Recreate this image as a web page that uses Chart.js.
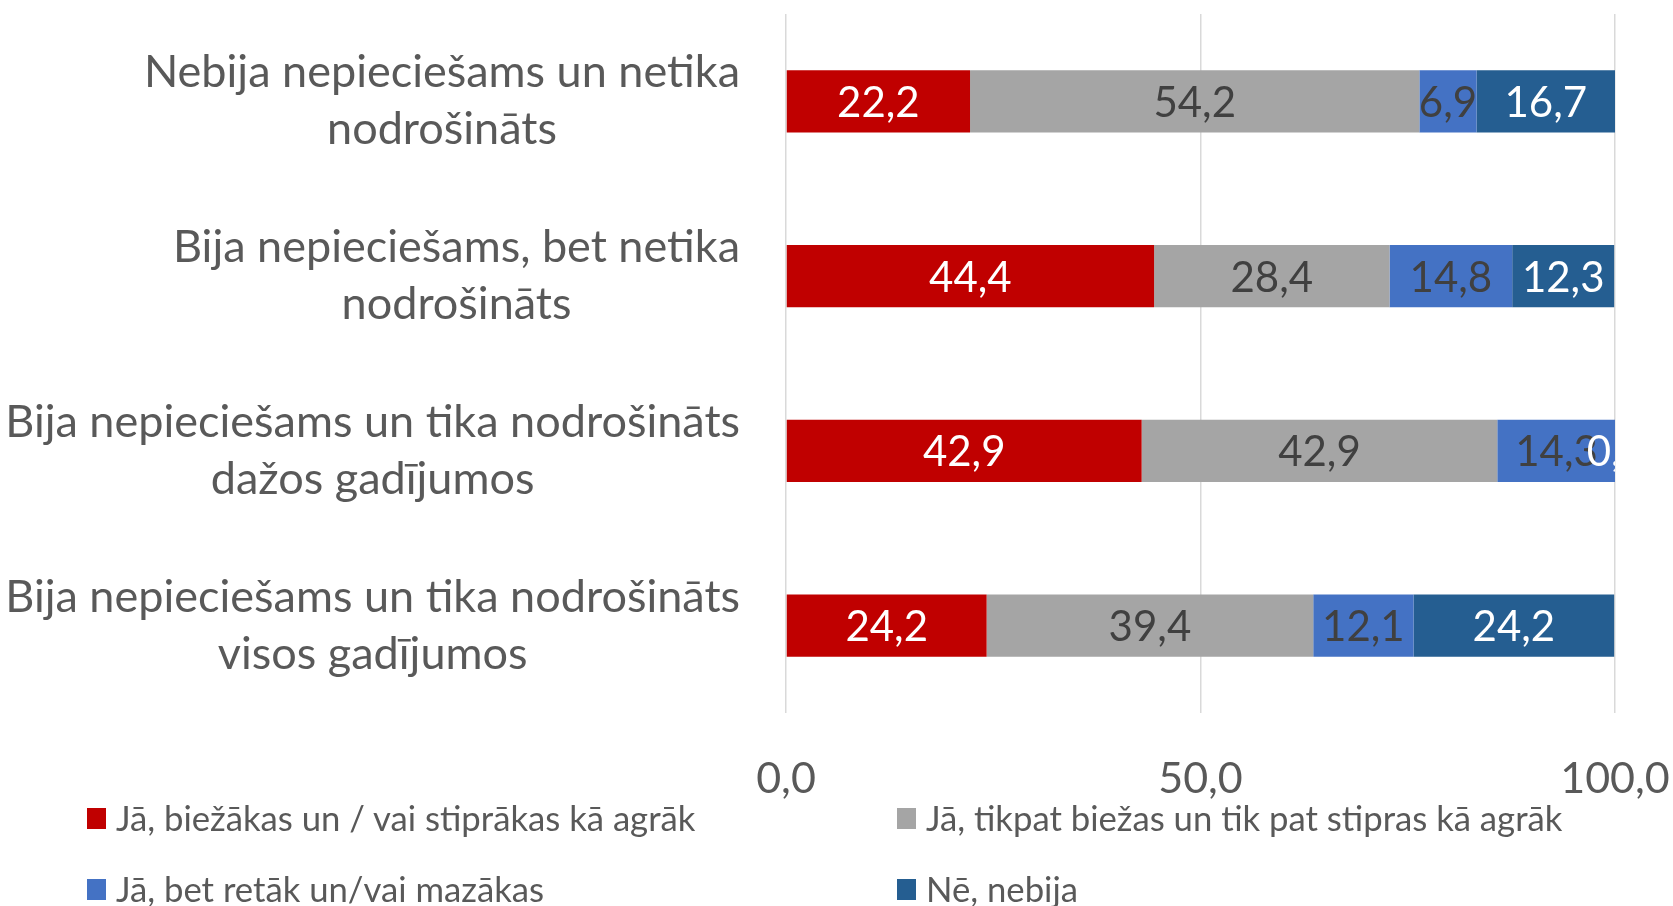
<!DOCTYPE html>
<html>
<head>
<meta charset="utf-8">
<script src="https://cdn.jsdelivr.net/npm/chart.js@4.4.1/dist/chart.umd.min.js"></script>
<style>
  body { margin: 0; background: #fff; }
  #wrap { position: relative; width: 1673px; height: 906px; }
  .lg { position: absolute; font-family: Lato, sans-serif; font-size: 34.7px; color: #595959; white-space: nowrap; line-height: 40px; }
  .lg i { position: absolute; left: -29px; top: 10px; width: 19px; height: 21px; }
</style>
</head>
<body>
<div id="wrap">
  <canvas id="chart" width="1673" height="906"></canvas>
</div>
<script>
// categories (top to bottom), each split into lines
const categories = [
  ['Nebija nepieciešams un netika', 'nodrošināts'],
  ['Bija nepieciešams, bet netika', 'nodrošināts'],
  ['Bija nepieciešams un tika nodrošināts', 'dažos gadījumos'],
  ['Bija nepieciešams un tika nodrošināts', 'visos gadījumos']
];
const seriesNames = [
  'Jā, biežākas un / vai stiprākas kā agrāk',
  'Jā, tikpat biežas un tik pat stipras kā agrāk',
  'Jā, bet retāk un/vai mazākas',
  'Nē, nebija'
];
const moreOften = [22.2, 44.4, 42.9, 24.2];
const sameAs    = [54.2, 28.4, 42.9, 39.4];
const lessOften = [6.9, 14.8, 14.3, 12.1];
const notAtAll  = [16.7, 12.3, 0.0, 24.2];
const xTicks = [0, 50, 100];

const colors = ['#C00000', '#A5A5A5', '#4472C4', '#255E91'];
const labelColors = ['#FFFFFF', '#404040', '#404040', '#FFFFFF'];
const font = 'Lato, sans-serif';

const fmt = v => v.toFixed(1).replace('.', ',');

// y labels: block right aligned, lines centered inside the block
const yLabelPlugin = {
  id: 'yLabels',
  afterDraw(chart) {
    const ctx = chart.ctx;
    const ys = chart.scales.y;
    ctx.save();
    ctx.font = '45px ' + font;
    ctx.fillStyle = '#595959';
    ctx.textAlign = 'center';
    ctx.textBaseline = 'middle';
    const right = chart.chartArea.left - 46;
    const lineH = 57;
    categories.forEach((lines, i) => {
      const w = Math.max(...lines.map(l => ctx.measureText(l).width));
      const cx = right - w / 2;
      const cy = ys.getPixelForValue(i);
      lines.forEach((l, k) => {
        ctx.fillText(l, cx, cy + (k - (lines.length - 1) / 2) * lineH);
      });
    });
    ctx.restore();
  }
};

// value labels in the middle of each bar segment
const valueLabelPlugin = {
  id: 'valueLabels',
  afterDatasetsDraw(chart) {
    const ctx = chart.ctx;
    const a = chart.chartArea;
    ctx.save();
    ctx.beginPath();
    ctx.rect(a.left, a.top, a.right - a.left, a.bottom - a.top);
    ctx.clip();
    ctx.font = '42px ' + font;
    ctx.textAlign = 'center';
    ctx.textBaseline = 'middle';
    chart.data.datasets.forEach((ds, i) => {
      const meta = chart.getDatasetMeta(i);
      ctx.fillStyle = labelColors[i];
      meta.data.forEach((bar, j) => {
        const p = bar.getProps(['x', 'y', 'base'], true);
        ctx.fillText(fmt(ds.data[j]), (p.x + p.base) / 2, p.y + 2);
      });
    });
    ctx.restore();
  }
};

const allSeries = [moreOften, sameAs, lessOften, notAtAll];

new Chart(document.getElementById('chart'), {
  type: 'bar',
  data: {
    labels: categories.map(c => c.join(' ')),
    datasets: allSeries.map((d, i) => ({
      label: seriesNames[i],
      data: d,
      backgroundColor: colors[i],
      borderWidth: 0,
      categoryPercentage: 1,
      barPercentage: 0.355
    }))
  },
  options: {
    indexAxis: 'y',
    responsive: false,
    animation: false,
    events: [],
    layout: { padding: { top: 14, right: 58, bottom: 103, left: 0 } },
    plugins: { legend: { display: false }, tooltip: { enabled: false } },
    scales: {
      x: {
        stacked: true,
        min: 0,
        max: 100,
        afterBuildTicks: s => { s.ticks = xTicks.map(v => ({ value: v })); },
        afterFit: s => { s.height = 90; s.paddingLeft = 0; s.paddingRight = 0; },
        grid: { color: '#D9D9D9', lineWidth: 1.5, drawTicks: false },
        border: { display: false },
        ticks: {
          padding: 40,
          color: '#595959',
          font: { family: font, size: 43 },
          callback: v => fmt(v)
        }
      },
      y: {
        stacked: true,
        afterFit: s => { s.width = 786; },
        grid: { display: false },
        border: { display: false },
        ticks: { display: false }
      }
    }
  },
  plugins: [yLabelPlugin, valueLabelPlugin]
});

// legend in two columns under the chart
const wrap = document.getElementById('wrap');
const legendPos = [[116, 798], [926, 798], [116, 869], [926, 869]];
seriesNames.forEach((name, i) => {
  const el = document.createElement('div');
  el.className = 'lg';
  el.style.left = legendPos[i][0] + 'px';
  el.style.top = legendPos[i][1] + 'px';
  el.innerHTML = '<i style="background:' + colors[i] + '"></i>' + name;
  wrap.appendChild(el);
});
</script>
</body>
</html>
